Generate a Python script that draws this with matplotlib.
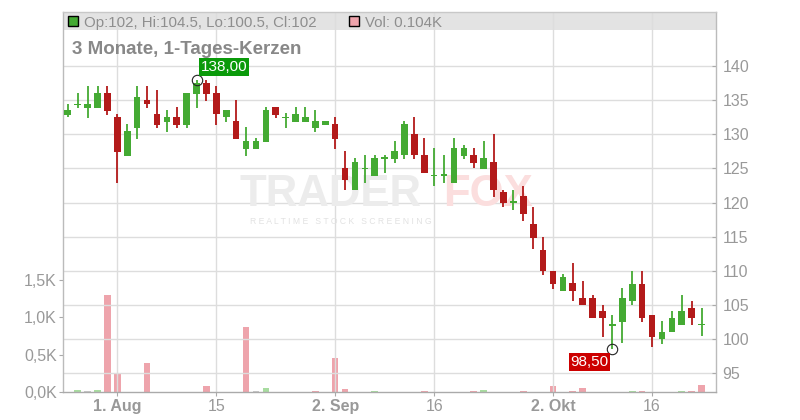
import matplotlib
matplotlib.use("Agg")
import matplotlib.pyplot as plt
from matplotlib.patches import Rectangle
import numpy as np

plt.rcParams['font.family'] = ['Liberation Sans', 'DejaVu Sans']

# ---- data ----
opens = [132.8, 134.3, 133.9, 133.9, 136.1, 132.6, 126.85, 130.95, 135.0, 132.96,
         131.8, 132.5, 131.4, 135.9, 137.45, 136.05, 132.5, 131.9, 127.9, 127.9,
         128.86, 134.04, 132.37, 131.79, 131.79, 130.96, 131.4, 131.54, 125.0, 121.82,
         124.9, 123.87, 126.42, 126.42, 126.9, 130.03, 126.9, 123.9, 123.95, 122.9,
         126.85, 126.95, 124.95, 126.0, 121.5, 120.0, 120.94, 116.9, 113.1, 110.05,
         107.0, 108.19, 106.08, 106.08, 104.07, 101.95, 102.45, 105.54, 108.14, 103.58,
         100.0, 101.03, 102.06, 104.56, 102.0]
highs = [134.4, 136.1, 137.1, 137.1, 137.1, 133.0, 131.5, 137.1, 137.1, 136.5,
         133.55, 134.0, 136.05, 138.0, 137.9, 137.1, 133.55, 135.0, 131.05, 129.5,
         134.04, 134.04, 133.06, 134.04, 134.04, 133.55, 131.93, 132.57, 127.54, 126.46,
         126.95, 126.95, 126.95, 129.0, 131.93, 132.57, 129.4, 127.93, 127.0, 129.4,
         128.5, 127.93, 129.0, 130.0, 121.9, 121.9, 122.5, 119.4, 114.9, 110.05,
         109.6, 111.08, 108.58, 106.5, 105.05, 103.58, 107.5, 110.05, 110.05, 103.58,
         102.6, 104.07, 106.5, 105.64, 104.5]
lows = [132.5, 133.9, 132.4, 133.9, 132.8, 122.9, 126.85, 129.3, 133.9, 130.95,
        130.4, 130.95, 130.95, 133.9, 134.9, 131.4, 131.8, 129.35, 126.85, 127.9,
        128.86, 132.4, 130.96, 131.79, 131.79, 130.32, 131.4, 127.84, 121.82, 121.82,
        122.9, 123.87, 124.36, 125.83, 126.36, 126.42, 124.36, 122.4, 122.8, 122.9,
        126.36, 125.0, 124.95, 120.8, 119.35, 118.9, 117.3, 113.2, 109.46, 107.4,
        107.0, 105.54, 104.95, 103.04, 100.25, 98.5, 99.5, 104.95, 102.45, 98.92,
        99.26, 101.03, 102.06, 102.06, 100.5]
closes = [133.55, 134.5, 134.5, 136.1, 133.45, 127.4, 130.5, 135.45, 134.4, 131.4,
          132.5, 131.4, 136.05, 137.45, 135.9, 132.9, 133.55, 129.35, 129.0, 129.0,
          133.55, 132.86, 132.47, 133.0, 132.52, 131.93, 131.93, 129.3, 123.33, 125.92,
          125.0, 126.46, 126.5, 127.54, 131.54, 126.9, 124.36, 124.0, 124.05, 127.93,
          127.93, 125.83, 126.46, 121.8, 119.94, 120.1, 118.3, 114.8, 109.95, 108.1,
          109.17, 107.0, 104.95, 103.04, 103.04, 102.05, 106.03, 108.14, 103.04, 100.25,
          101.03, 103.14, 104.07, 103.04, 102.0]
volumes_k = [0.0, 0.031, 0.013, 0.031, 1.30, 0.254, 0.0, 0.0, 0.39, 0.0,
             0.0, 0.0, 0.0, 0.0, 0.084, 0.0, 0.0, 0.0, 0.87, 0.013,
             0.058, 0.0, 0.0, 0.0, 0.0, 0.018, 0.0, 0.463, 0.045, 0.0,
             0.0, 0.018, 0.0, 0.0, 0.0, 0.0, 0.018, 0.0, 0.0, 0.0,
             0.0, 0.018, 0.031, 0.0, 0.0, 0.0, 0.018, 0.0, 0.0, 0.089,
             0.0, 0.018, 0.062, 0.0, 0.0, 0.0, 0.0, 0.018, 0.018, 0.0,
             0.0, 0.0, 0.018, 0.018, 0.104]
date_tick_index = [5, 15, 27, 37, 49, 59]
date_tick_labels = ['1. Aug', '15', '2. Sep', '16', '2. Okt', '16']
date_tick_bold = [True, False, True, False, True, False]
price_ticks = [95, 100, 105, 110, 115, 120, 125, 130, 135, 140]
vol_ticks = [0.0, 0.5, 1.0, 1.5]
vol_tick_labels = ['0,0K', '0,5K', '1,0K', '1,5K']
title = '3 Monate, 1-Tages-Kerzen'
header_text = 'Op:102, Hi:104.5, Lo:100.5, Cl:102'
vol_text = 'Vol: 0.104K'
max_label = '138,00'
min_label = '98,50'

# ---- style ----
GREEN = '#44aa33'
RED = '#b31a1a'
VGREEN = '#a8dca0'
VRED = '#eea4ac'
VGRAY = '#c8c8c8'
GRID = '#dddddd'
TXT = '#999999'

W, H = 800, 420
L, R, T, B = 63, 716, 11.7, 392.3
fig = plt.figure(figsize=(W / 100, H / 100), dpi=100)
fig.patch.set_facecolor('white')
pos = [L / W, (H - B) / H, (R - L) / W, (B - T) / H]
axv = fig.add_axes(pos)
ax = fig.add_axes(pos, sharex=axv)
ax.patch.set_visible(False)

n = len(closes)
x = np.arange(n)
dx = 9.902
x0 = 67.8
axv.set_xlim((L - x0) / dx, (R - x0) / dx)
px_per_k = 74.87
axv.set_ylim(0, (B - T) / px_per_k)
ppu = (373.3 - 66) / 45.0
ax.set_ylim(95 - (B - 373.3) / ppu, 140 + (66 - T) / ppu)

# header band
hdr_bottom = (B - 30) / (B - T)
ax.add_patch(Rectangle((0, hdr_bottom), 1, 1 - hdr_bottom, transform=ax.transAxes,
                       facecolor='#e3e3e3', edgecolor='none', zorder=0.2))

# grid
for p in price_ticks:
    ax.axhline(p, color=GRID, lw=1.0, zorder=0.5)
for t in date_tick_index:
    ax.axvline(t, color=GRID, lw=1.0, zorder=0.5)

# watermark (drawn inside the price axes, beneath the candles)
ax.text(240 / W, (H - 206.5) / H, 'TRADER', transform=fig.transFigure, fontsize=31.5,
        fontweight='bold', color='#ececec', ha='left', va='baseline', zorder=0.6)
ax.text(443 / W, (H - 206.5) / H, 'FOX', transform=fig.transFigure, fontsize=31.5,
        fontweight='bold', color='#fbdede', ha='left', va='baseline', zorder=0.6)
ax.text(250 / W, (H - 223.5) / H, 'R E A L T I M E   S T O C K   S C R E E N I N G',
        transform=fig.transFigure, fontsize=6.2, color='#e2e2e2', ha='left',
        va='baseline', zorder=0.6)

# volume bars
vcolors = []
for i in range(n):
    if i == 0:
        vcolors.append(VGREEN)
    else:
        d = round(closes[i] - closes[i - 1], 3)
        vcolors.append(VGREEN if d > 0 else (VRED if d < 0 else VGRAY))
axv.bar(x, volumes_k, width=0.67, color=vcolors, zorder=1)

# candles
for i in range(n):
    o, h, l, c = opens[i], highs[i], lows[i], closes[i]
    col = GREEN if c >= o else RED
    ax.plot([i, i], [l, h], color=col, lw=1.3, zorder=3, solid_capstyle='butt')
    bot = min(o, c)
    ht = max(abs(c - o), 0.2)
    ax.bar(i, ht, bottom=bot, width=0.67, color=col, zorder=4)

# max / min markers
imax = int(np.argmax(highs))
imin = int(np.argmin(lows))
ax.plot([imax], [highs[imax]], marker='o', ms=7.5, mfc='none', mec='#222222', mew=0.8, zorder=6)
ax.plot([imin], [lows[imin]], marker='o', ms=7.5, mfc='none', mec='#222222', mew=0.8, zorder=6)
ax.annotate(max_label, xy=(imax, highs[imax]), xytext=(3.0, 4.0), textcoords='offset points',
            ha='left', va='bottom', fontsize=11, color='white', zorder=7,
            bbox=dict(boxstyle='square,pad=0.12', facecolor='#0a9a0a', edgecolor='none'))
ax.annotate(min_label, xy=(imin, lows[imin]), xytext=(-2.7, -4.2), textcoords='offset points',
            ha='right', va='top', fontsize=11, color='white', zorder=7,
            bbox=dict(boxstyle='square,pad=0.12', facecolor='#cc0000', edgecolor='none'))

# axes styling
for a in (ax, axv):
    for s in a.spines.values():
        s.set_visible(False)
ax.spines['left'].set_visible(True)
ax.spines['left'].set_color('#bbbbbb')
ax.spines['right'].set_visible(True)
ax.spines['right'].set_color('#bbbbbb')
ax.spines['top'].set_visible(True)
ax.spines['top'].set_color('#c8c8c8')
ax.spines['bottom'].set_visible(True)
ax.spines['bottom'].set_color('#aaaaaa')
for s in ax.spines.values():
    s.set_linewidth(1.0)

ax.yaxis.tick_right()
ax.set_yticks(price_ticks)
ax.set_yticklabels([str(p) for p in price_ticks])
ax.tick_params(axis='y', direction='in', length=3, width=0.8, color='#aaaaaa',
               labelsize=11.5, labelcolor=TXT, pad=4.5)

axv.set_yticks(vol_ticks)
axv.set_yticklabels(vol_tick_labels)
axv.tick_params(axis='y', direction='out', length=3, width=0.8, color='#aaaaaa',
                labelsize=11.5, labelcolor=TXT, pad=1.5)
axv.tick_params(axis='x', bottom=False, labelbottom=False)

ax.set_xticks(date_tick_index)
ax.set_xticklabels(date_tick_labels)
ax.tick_params(axis='x', direction='out', length=3, width=0.8, color='#aaaaaa',
               labelsize=11.5, labelcolor=TXT, pad=2)
for lab, b in zip(ax.get_xticklabels(), date_tick_bold):
    lab.set_fontweight('bold' if b else 'normal')

# header texts
fig.patches.append(Rectangle((68.3 / W, (H - 26.3) / H), 10 / W, 10 / H, transform=fig.transFigure,
                             facecolor=GREEN, edgecolor='black', lw=1.0, figure=fig))
fig.text(84 / W, (H - 27.3) / H, header_text, fontsize=10.8, color='#8e8e8e',
         ha='left', va='baseline')
fig.patches.append(Rectangle((349.3 / W, (H - 26.3) / H), 10 / W, 10 / H, transform=fig.transFigure,
                             facecolor=VRED, edgecolor='black', lw=1.0, figure=fig))
fig.text(365 / W, (H - 27.3) / H, vol_text, fontsize=10.8, color='#8e8e8e',
         ha='left', va='baseline')
fig.text(72 / W, (H - 54) / H, title, fontsize=13.5, fontweight='bold', color='#888888',
         ha='left', va='baseline')

fig.savefig('out.png', dpi=100, facecolor='white')
